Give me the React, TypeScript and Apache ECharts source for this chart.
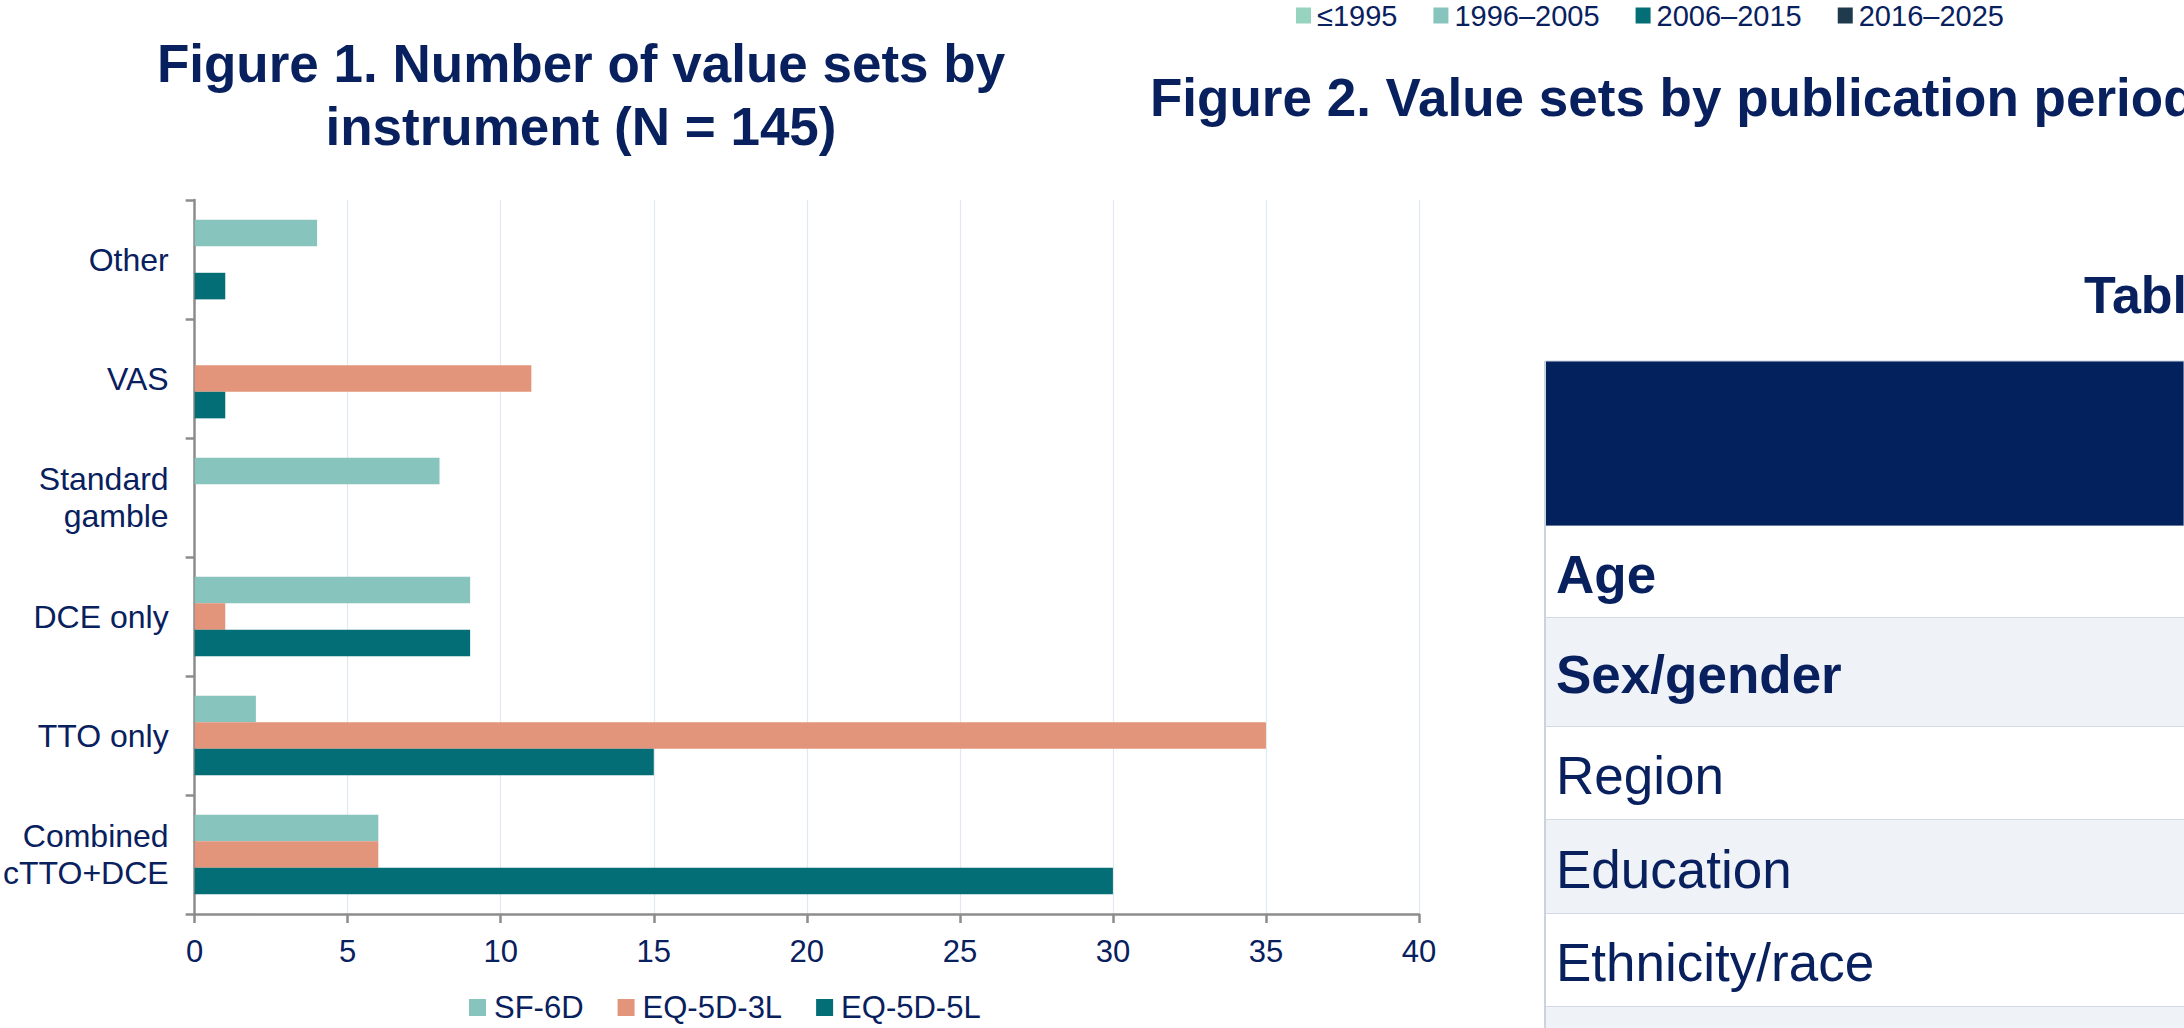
import React, { useEffect, useRef } from "react";
import * as echarts from "echarts";

// ---- Figure 1 data ----
const categories = ["Combined\ncTTO+DCE", "TTO only", "DCE only", "Standard\ngamble", "VAS", "Other"];
const sf6d = [6, 2, 9, 8, 0, 4];
const eq5d3l = [6, 35, 1, 0, 11, 0];
const eq5d5l = [30, 15, 9, 0, 1, 1];
const instrumentNames = ["SF-6D", "EQ-5D-3L", "EQ-5D-5L"];
const instrumentColors = ["#87C4BD", "#E2957A", "#036E75"];
const xTicks = { min: 0, max: 40, interval: 5 };

// ---- Figure 2 legend (periods) ----
const periodNames = ["≤1995", "1996–2005", "2006–2015", "2016–2025"];
const periodColors = ["#96D4BF", "#87C4BD", "#036E75", "#1F3A4D"];

// ---- Table rows ----
const tableRows = ["Age", "Sex/gender", "Region", "Education", "Ethnicity/race", ""];
const tableRowBold = [true, true, false, false, false, false];

const NAVY = "#08205E";
const FONT = "'Liberation Sans', Arial, Helvetica, sans-serif";

export default function App() {
  const ref = useRef<HTMLDivElement>(null);

  useEffect(() => {
    if (!ref.current) return;
    const chart = echarts.init(ref.current, undefined, { renderer: "svg" });

    const rowEdges = [526, 618, 727, 820, 914, 1007, 1100];
    const tableLeft = 1545;
    const tableRight = 2184;
    const graphics: any[] = [];

    // Titles
    graphics.push({
      type: "text",
      x: 581,
      y: 95,
      style: {
        text: "Figure 1. Number of value sets by\ninstrument (N = 145)",
        fontSize: 53,
        fontWeight: "bold",
        fontFamily: FONT,
        fill: NAVY,
        align: "center",
        verticalAlign: "middle",
        lineHeight: 63,
      },
    });
    graphics.push({
      type: "text",
      x: 1150,
      y: 97,
      style: {
        text: "Figure 2. Value sets by publication period",
        fontSize: 53,
        fontWeight: "bold",
        fontFamily: FONT,
        fill: NAVY,
        align: "left",
        verticalAlign: "middle",
      },
    });
    graphics.push({
      type: "text",
      x: 2084,
      y: 295,
      style: {
        text: "Table 1",
        fontSize: 52,
        fontWeight: "bold",
        fontFamily: FONT,
        fill: NAVY,
        align: "left",
        verticalAlign: "middle",
      },
    });

    // Table header
    graphics.push({
      type: "rect",
      shape: { x: tableLeft, y: 361, width: tableRight - tableLeft, height: 526 - 361 },
      style: { fill: "#03215D", stroke: "#C9D2DF", lineWidth: 1 },
    });
    // Table rows
    tableRows.forEach((label, i) => {
      const top = rowEdges[i];
      const bottom = rowEdges[i + 1];
      graphics.push({
        type: "rect",
        shape: { x: tableLeft, y: top, width: tableRight - tableLeft, height: bottom - top },
        style: { fill: i % 2 === 0 ? "#FFFFFF" : "#EFF2F7" },
      });
      graphics.push({
        type: "line",
        shape: { x1: tableLeft, y1: bottom, x2: tableRight, y2: bottom },
        style: { stroke: "#D3DAE5", lineWidth: 2 },
      });
      if (label) {
        graphics.push({
          type: "text",
          x: 1556,
          y: (top + bottom) / 2 + 2,
          style: {
            text: label,
            fontSize: 53,
            fontWeight: tableRowBold[i] ? "bold" : "normal",
            fontFamily: FONT,
            fill: NAVY,
            align: "left",
            verticalAlign: "middle",
          },
        });
      }
    });
    graphics.push({
      type: "line",
      shape: { x1: tableLeft, y1: 361, x2: tableLeft, y2: 1028 },
      style: { stroke: "#CBD3DF", lineWidth: 2 },
    });

    const barSeries = [sf6d, eq5d3l, eq5d5l].map((d, i) => ({
      name: instrumentNames[i],
      type: "bar",
      data: d,
      barGap: "0%",
      barCategoryGap: "33%",
      itemStyle: { color: instrumentColors[i] },
    }));

    const periodSeries = periodNames.map((n, i) => ({
      name: n,
      type: "line",
      data: [],
      itemStyle: { color: periodColors[i] },
      lineStyle: { color: periodColors[i] },
    }));

    chart.setOption({
      animation: false,
      backgroundColor: "#FFFFFF",
      textStyle: { fontFamily: FONT },
      grid: { left: 192, right: 765, top: 200, bottom: 114, containLabel: false },
      legend: [
        {
          data: instrumentNames,
          left: 469,
          top: 992,
          padding: 0,
          icon: "rect",
          itemWidth: 17,
          itemHeight: 17,
          itemGap: 34,
          selectedMode: false,
          textStyle: { fontSize: 31, color: NAVY, fontFamily: FONT, padding: [0, 0, 0, 3] },
        },
        {
          data: periodNames,
          left: 1296,
          top: 1,
          padding: 0,
          icon: "rect",
          itemWidth: 15,
          itemHeight: 16,
          itemGap: 36,
          selectedMode: false,
          textStyle: { fontSize: 29, color: NAVY, fontFamily: FONT, padding: [0, 0, 0, 1] },
        },
      ],
      xAxis: {
        type: "value",
        min: xTicks.min,
        max: xTicks.max,
        interval: xTicks.interval,
        axisLine: { show: true, lineStyle: { color: "#8C8C8C", width: 2.5 } },
        axisTick: { show: true, length: 9, lineStyle: { color: "#8C8C8C", width: 2.5 } },
        axisLabel: { fontSize: 31, color: NAVY, margin: 22, fontFamily: FONT },
        splitLine: { show: true, lineStyle: { color: "#E2E7F0", width: 1.2 } },
      },
      yAxis: {
        type: "category",
        data: categories,
        axisLine: { show: true, lineStyle: { color: "#8C8C8C", width: 2.5 } },
        axisTick: { show: true, length: 9, lineStyle: { color: "#8C8C8C", width: 2.5 } },
        axisLabel: { fontSize: 32, color: NAVY, margin: 26, lineHeight: 37, align: "right", fontFamily: FONT },
        splitLine: { show: false },
      },
      series: [...barSeries, ...periodSeries],
      graphic: graphics,
    });

    return () => chart.dispose();
  }, []);

  return (
    <div
      ref={ref}
      style={{ position: "fixed", left: 0, top: 0, width: 2184, height: 1028, background: "#FFFFFF" }}
    />
  );
}
